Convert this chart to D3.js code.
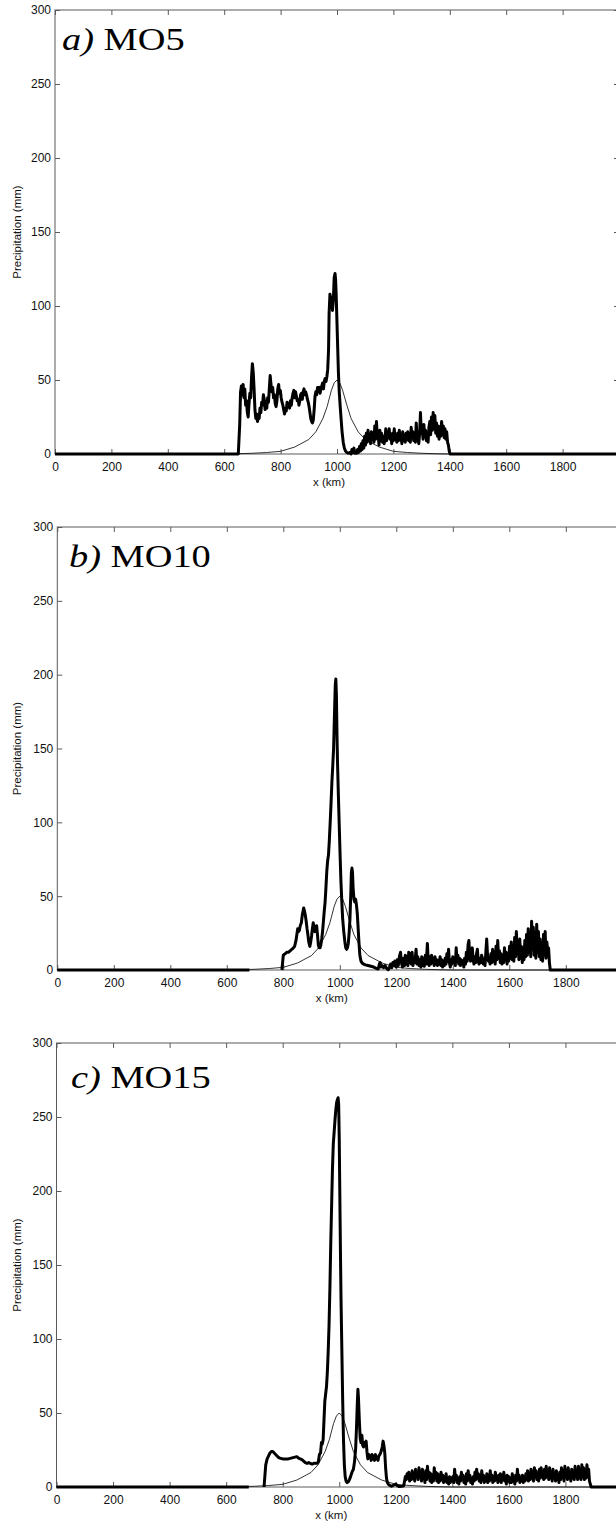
<!DOCTYPE html>
<html><head><meta charset="utf-8">
<script src="https://cdn.jsdelivr.net/npm/d3@7"></script>
<style>
html,body{margin:0;padding:0;background:#fff;}
svg{display:block;}
</style></head>
<body>
<script>
// ---------------- DATA ----------------
const xTicks = [0,200,400,600,800,1000,1200,1400,1600,1800];
const xTickPositions = [0,200,400,600,800,1000,1200,1400,1600,1800,2000];
const yTicks = [0,50,100,150,200,250,300];
const titles = [["a)"," MO5"],["b)"," MO10"],["c)"," MO15"]];
const yLabel = "Precipitation (mm)";
const xLabel = "x (km)";

// reference (thin) curve, km / mm
const refX = [0,600,650,700,750,800,850,900,925,950,965,980,990,1000,1010,1020,1035,1050,1075,1100,1150,1200,1250,1300,1350,1400,2000];
const refY = [0,0,0.2,0.5,1,1.8,4.7,9.8,15,24,32,43,48,50,48,43,33,24,15,9.8,4.7,1.8,1,0.5,0.2,0,0];

// panel a (MO5) thick curve
const aX = [0,645,650,655,658,661,664,667,670,673,676,679,682,685,688,691,694,697,700,703,706,709,712,715,718,721,724,727,730,733,736,739,742,745,748,751,754,757,760,763,766,769,772,775,778,781,784,787,790,793,796,799,802,805,808,811,814,817,820,823,826,829,832,835,838,841,844,847,850,853,856,859,862,865,868,871,874,877,880,883,886,889,892,895,898,901,904,907,910,913,916,919,922,925,928,931,934,937,940,943,946,949,952,955,958,961,964,967,970,972,975,978,981,984,987,990,993,995,997,999,1002,1005,1008,1011,1014,1018,1022,1026,1030,1035,1040,1045,1050,1053,1056,1060,1063,1066,1070,1073,1076,1080,1083,1086,1089,1092,1095,1098,1101,1104,1107,1110,1113,1116,1119,1122,1125,1128,1131,1134,1137,1140,1143,1146,1149,1152,1155,1158,1161,1164,1167,1170,1173,1176,1179,1182,1185,1188,1191,1194,1197,1200,1203,1206,1209,1212,1215,1218,1221,1224,1227,1230,1233,1236,1239,1242,1245,1248,1251,1254,1257,1260,1263,1266,1269,1272,1275,1278,1281,1284,1287,1290,1293,1296,1299,1302,1305,1308,1311,1314,1317,1320,1323,1326,1329,1332,1335,1338,1341,1344,1347,1350,1353,1356,1359,1362,1365,1368,1371,1374,1377,1380,1383,1386,1389,1392,1395,1398,1401,2000];
const aY = [0,0,0,20,42,46,40,47,38,44,33,36,28,25,34,41,38,52,61,55,44,30,24,27,22,26,24,31,28,35,33,40,37,30,34,31,38,35,44,53,47,42,45,38,40,34,32,36,44,47,41,43,38,35,33,30,27,31,29,35,32,34,31,36,33,38,41,43,38,42,39,36,37,33,36,40,41,37,42,44,40,42,40,37,35,32,28,24,22,21,23,30,39,42,40,45,43,45,41,44,46,48,44,49,51,49,52,57,70,95,108,104,106,97,104,119,122,118,108,95,75,55,42,33,25,15,8,4,2,1,0.5,1,0,3,1,4,0.5,2,0.5,3,1,5,2,7,3,9,4,12,6,14,8,16,9,13,7,15,10,14,8,19,10,22,11,13,6,16,9,14,8,12,7,10,17,9,15,11,17,10,13,7,14,9,17,10,12,8,14,9,16,10,12,7,15,9,13,8,14,10,15,9,13,8,18,11,15,9,13,8,21,10,12,7,14,28,14,18,10,20,12,16,9,14,8,18,22,13,25,16,28,17,26,14,21,12,19,10,18,12,22,13,19,11,17,10,15,8,6,2,0,0];

// panel b (MO10) thick curve (null = no thick line)
const bX = [0,680,681,795,800,806,812,818,824,830,836,840,845,848,851,854,857,860,864,867,870,872,875,878,881,884,887,890,894,897,900,903,906,909,912,915,918,921,924,927,930,933,936,939,942,945,948,951,954,957,960,963,966,969,972,975,978,981,984,986,988,990,992,995,998,1001,1004,1007,1010,1014,1018,1021,1024,1027,1030,1033,1036,1039,1041,1043,1045,1047,1050,1053,1056,1059,1062,1065,1068,1071,1075,1080,1090,1100,1110,1120,1130,1136,1140,1143,1146,1150,1155,1160,1166,1172,1176,1180,1184,1188,1192,1195,1199,1203,1207,1211,1215,1218,1222,1226,1229,1232,1235,1238,1241,1244,1247,1250,1253,1256,1259,1262,1266,1270,1273,1276,1280,1284,1287,1290,1293,1296,1299,1303,1306,1310,1313,1316,1319,1322,1325,1328,1331,1334,1337,1340,1343,1346,1349,1352,1355,1358,1361,1364,1367,1370,1373,1376,1379,1382,1385,1388,1391,1394,1397,1400,1403,1406,1409,1412,1415,1418,1421,1424,1427,1430,1433,1436,1439,1442,1445,1448,1451,1454,1457,1460,1463,1466,1469,1472,1475,1478,1481,1484,1487,1490,1493,1496,1499,1502,1505,1508,1511,1514,1517,1520,1523,1526,1529,1532,1535,1538,1541,1544,1547,1550,1553,1556,1559,1562,1565,1568,1571,1574,1577,1580,1583,1586,1589,1592,1595,1598,1601,1604,1607,1610,1613,1616,1619,1622,1625,1628,1631,1634,1637,1640,1643,1646,1649,1652,1655,1658,1661,1664,1667,1670,1673,1676,1679,1682,1685,1688,1691,1694,1697,1700,1703,1706,1709,1712,1715,1718,1721,1724,1727,1730,1733,1736,1739,1742,1745,2000];
const bY = [0,0,null,0,10,11,12,12,13,14,15,16,20,24,28,26,27,30,32,37,40,42,40,37,33,28,24,19,16,19,23,28,32,29,26,28,30,24,17,15,15,17,21,26,33,40,46,56,67,74,78,88,100,113,127,138,150,172,193,197,186,160,140,118,98,78,60,47,35,26,19,15,14,15,18,25,35,52,66,69,66,56,48,46,48,44,38,28,18,10,6,4.5,3.5,3,2.5,2,1,0.7,4,5,2,3,1.5,3,1,0.2,2,4,1.5,5,3,6,2,7,3,9,12,5,2,8,3,10,4,9,3,12,5,11,4,12,3,8,5,14,4,9,3,7,2,9,3,8,2.5,10,4,18,6,3,9,4,10,5,7,3,9,4,7,3,6,4,9,3,7,2,6,3,8,4,11,6,14,5,2,7,4,9,5,8,3,15,6,10,4,8,3,7,4,6,2,8,4,12,6,17,20,9,6,12,15,7,4,9,5,11,14,6,4,8,5,10,8,4,6,3,12,21,10,6,8,4,11,5,14,6,10,4,16,7,20,8,13,5,11,4,9,5,15,7,12,4,10,6,16,8,19,7,14,6,22,9,26,11,18,7,21,8,16,5,13,7,20,9,24,10,28,12,22,9,33,14,29,10,25,8,31,12,26,9,21,7,18,6,24,10,26,8,19,12,15,5,0,0];

// panel c (MO15) thick curve
const cX = [0,680,681,734,740,745,750,755,760,765,770,775,780,785,790,800,810,820,830,840,850,856,862,868,874,880,886,892,898,904,910,916,922,926,930,934,937,940,943,946,949,952,955,958,961,964,967,970,973,976,979,982,985,988,991,994,996,998,1000,1003,1006,1009,1012,1015,1018,1021,1024,1028,1032,1036,1040,1045,1050,1054,1058,1061,1064,1066,1068,1071,1074,1077,1080,1083,1086,1089,1092,1095,1098,1101,1104,1107,1110,1113,1116,1119,1122,1125,1128,1131,1134,1137,1140,1144,1148,1152,1155,1158,1161,1164,1167,1170,1175,1185,1195,1200,1205,1212,1222,1228,1231,1234,1237,1240,1243,1246,1249,1252,1255,1258,1261,1264,1267,1270,1273,1276,1279,1282,1285,1288,1291,1294,1297,1300,1303,1306,1309,1312,1315,1318,1321,1324,1327,1330,1333,1336,1339,1342,1345,1348,1351,1354,1357,1360,1363,1366,1369,1372,1375,1378,1381,1384,1387,1390,1393,1396,1399,1402,1405,1408,1411,1414,1417,1420,1423,1426,1429,1432,1435,1438,1441,1444,1447,1450,1453,1456,1459,1462,1465,1468,1471,1474,1477,1480,1483,1486,1489,1492,1495,1498,1501,1504,1507,1510,1513,1516,1519,1522,1525,1528,1531,1534,1537,1540,1543,1546,1549,1552,1555,1558,1561,1564,1567,1570,1573,1576,1579,1582,1585,1588,1591,1594,1597,1600,1603,1606,1609,1612,1615,1618,1621,1624,1627,1630,1633,1636,1639,1642,1645,1648,1651,1654,1657,1660,1663,1666,1669,1672,1675,1678,1681,1684,1687,1690,1693,1696,1699,1702,1705,1708,1711,1714,1717,1720,1723,1726,1729,1732,1735,1738,1741,1744,1747,1750,1753,1756,1759,1762,1765,1768,1771,1774,1777,1780,1783,1786,1789,1792,1795,1798,1801,1804,1807,1810,1813,1816,1819,1822,1825,1828,1831,1834,1837,1840,1843,1846,1849,1852,1855,1858,1861,1864,1867,1870,1873,1876,1879,1882,1885,1888,1891,2000];
const cY = [0,0,null,0,15,19,21,23,24,24,23,22,21,20,19.5,19,19,19,19.5,20,20.5,19.5,19,18.5,17.5,16.5,16,16.5,16,15.5,16,16,16,17,22,23,30,29,32,45,58,63,68,78,92,110,135,165,190,215,232,240,248,255,260,262,263,258,235,180,130,95,60,32,15,7,4,3,3.5,5,7,10,12,17,26,40,57,66,60,45,33,30,35,28,27,30,28,31,24,19,22,20,21,18,22,19,21,18,22,19,20,18,21,22,24,27,31,28,23,13,6,3,1.5,0.5,1.5,2,1,0.3,0.5,0.8,4,7,5,9,6,10,4,8,5,11,6,9,4,12,7,10,5,13,7,10,4,12,6,9,3,11,5,14,7,10,4,9,3,8,4,13,6,10,4,9,3,8,4,10,5,8,3,7,4,9,3,6,2,7,3,6,4,7,3,12,5,8,3,6,2,7,4,10,5,8,3,6,2,9,4,11,5,8,3,6,2,7,4,10,5,12,6,9,4,7,3,11,5,8,3,6,4,9,3,7,4,11,5,8,3,6,4,10,5,7,3,8,4,9,3,7,5,10,4,6,2,8,4,7,3,5,3,9,4,6,2,8,4,12,5,8,3,6,4,8,3,7,4,9,5,11,4,8,5,12,6,10,4,13,7,11,5,9,4,12,6,13,7,10,5,12,6,14,7,11,5,13,6,10,4,12,6,9,4,11,5,8,3,10,5,13,6,11,4,14,7,10,5,13,6,9,4,12,6,10,5,14,7,11,5,14,6,12,5,15,7,13,5,11,6,15,7,12,4,2,0,0];

const thickX = [aX,bX,cX];
const thickY = [aY,bY,cY];

// ---------------- LAYOUT ----------------
const W = 616, H = 1524;
const panels = [
  {left:55, right:619, top:10, bottom:454, tx:62, ty:50},
  {left:57.3, right:622.3, top:527, bottom:970, tx:69, ty:567},
  {left:56.5, right:622, top:1043, bottom:1487, tx:71, ty:1088}
];
const axisColor = "#5a5a5a";

const svg = d3.select("body").append("svg").attr("width",W).attr("height",H)
  .style("font-family","'Liberation Sans', Arial, Helvetica, sans-serif");

panels.forEach((p,i)=>{
  const x = d3.scaleLinear().domain([0,2000]).range([p.left,p.right]);
  const y = d3.scaleLinear().domain([0,300]).range([p.bottom,p.top]);
  const g = svg.append("g");

  // box
  g.append("rect").attr("x",p.left).attr("y",p.top).attr("width",p.right-p.left).attr("height",p.bottom-p.top)
    .attr("fill","none").attr("stroke",axisColor).attr("stroke-width",1);

  // bottom axis: ticks inward
  const bAx = g.append("g").attr("transform",`translate(0,${p.bottom})`)
    .call(d3.axisBottom(x).tickValues(xTicks).tickSize(-5).tickPadding(8).tickFormat(d3.format("d")));
  bAx.select(".domain").remove();
  bAx.selectAll("line").attr("stroke",axisColor);
  bAx.selectAll("text").attr("font-size",12).attr("fill","#111");
  // top ticks
  const tAx = g.append("g").attr("transform",`translate(0,${p.top})`)
    .call(d3.axisTop(x).tickValues(xTickPositions).tickSize(-5).tickFormat(""));
  tAx.select(".domain").remove();
  tAx.selectAll("line").attr("stroke",axisColor);
  // left axis
  const lAx = g.append("g").attr("transform",`translate(${p.left},0)`)
    .call(d3.axisLeft(y).tickValues(yTicks).tickSize(-5).tickPadding(4).tickFormat(d3.format("d")));
  lAx.select(".domain").remove();
  lAx.selectAll("line").attr("stroke",axisColor);
  lAx.selectAll("text").attr("font-size",12).attr("fill","#111");
  // right ticks
  const rAx = g.append("g").attr("transform",`translate(${p.right},0)`)
    .call(d3.axisRight(y).tickValues(yTicks).tickSize(-5).tickFormat(""));
  rAx.select(".domain").remove();
  rAx.selectAll("line").attr("stroke",axisColor);

  // thin reference curve
  const line = d3.line().defined(d=>d[1]!==null).x(d=>x(d[0])).y(d=>y(d[1]));
  g.append("path").datum(refX.map((v,k)=>[v,refY[k]]))
    .attr("d",line).attr("fill","none").attr("stroke","#000").attr("stroke-width",0.8);
  // thick curve
  g.append("path").datum(thickX[i].map((v,k)=>[v,thickY[i][k]]))
    .attr("d",line).attr("fill","none").attr("stroke","#000").attr("stroke-width",3)
    .attr("stroke-linejoin","round");

  // labels
  g.append("text").attr("x",x(1000)-8).attr("y",p.bottom+32).attr("text-anchor","middle")
    .attr("font-size",11.5).attr("fill","#111").text(xLabel);
  g.append("text").attr("transform",`translate(21,${(p.top+p.bottom)/2}) rotate(-90)`)
    .attr("text-anchor","middle").attr("font-size",11.5).attr("fill","#111").text(yLabel);

  // title
  const t = g.append("text").attr("transform",`translate(${p.tx},${p.ty}) scale(1.2,1)`)
    .attr("font-family","'Liberation Serif','Times New Roman',serif").attr("font-size",32).attr("fill","#000");
  t.append("tspan").attr("font-style","italic").text(titles[i][0]);
  t.append("tspan").text(titles[i][1]);
});
</script>
</body></html>
